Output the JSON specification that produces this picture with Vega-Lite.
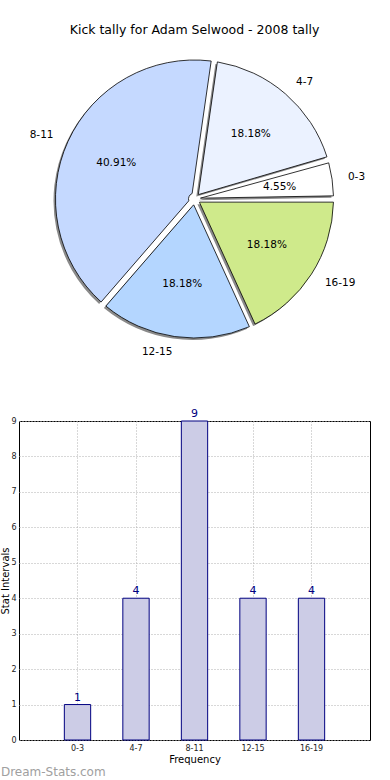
{
  "$schema": "https://vega.github.io/schema/vega-lite/v6.json",
  "padding": {"left": 0, "top": 23, "right": 4, "bottom": 2},
  "background": "white",
  "config": {"font": "DejaVu Sans", "view": {"stroke": null}},
  "datasets": {
    "tally": [
      {"range": "0-3", "idx": 1, "count": 1, "pct": "4.55%"},
      {"range": "4-7", "idx": 2, "count": 4, "pct": "18.18%"},
      {"range": "8-11", "idx": 3, "count": 9, "pct": "40.91%"},
      {"range": "12-15", "idx": 4, "count": 4, "pct": "18.18%"},
      {"range": "16-19", "idx": 5, "count": 4, "pct": "18.18%"}
    ]
  },
  "vconcat": [
    {
      "width": 351,
      "height": 310,
      "title": {"text": "Kick tally for Adam Selwood - 2008 tally", "fontSize": 12.5, "fontWeight": "normal", "offset": 8, "anchor": "middle"},
      "data": {"name": "tally"},
      "encoding": {
        "theta": {"field": "count", "type": "quantitative", "stack": true, "scale": {"range": [1.5708, -4.7124]}},
        "order": {"field": "idx", "type": "quantitative", "sort": "ascending"}
      },
      "layer": [
        {
          "mark": {"type": "arc", "radius": 139, "innerRadius": 6, "padAngle": 0.045, "fill": "#8a8a8a", "xOffset": -2, "yOffset": 2}
        },
        {
          "mark": {"type": "arc", "radius": 139, "innerRadius": 6, "padAngle": 0.045, "stroke": "black", "strokeWidth": 0.8},
          "encoding": {
            "color": {"field": "range", "type": "nominal", "legend": null,
              "scale": {"domain": ["0-3", "4-7", "8-11", "12-15", "16-19"], "range": ["#ffffff", "#ebf2ff", "#c5d9ff", "#b4d6ff", "#cfea8b"]}}
          }
        },
        {
          "mark": {"type": "text", "radius": 86, "fontSize": 10.5, "color": "black"},
          "encoding": {"text": {"field": "pct", "type": "nominal"}}
        },
        {
          "mark": {"type": "text", "radius": 155, "fontSize": 10.5, "align": "left", "baseline": "middle", "color": "black"},
          "encoding": {"text": {"condition": {"test": "indexof(['0-3','4-7','16-19'], datum.range) >= 0", "field": "range", "type": "nominal"}, "value": ""}}
        },
        {
          "mark": {"type": "text", "radius": 155, "fontSize": 10.5, "align": "right", "baseline": "middle", "color": "black"},
          "encoding": {"text": {"condition": {"test": "indexof(['8-11','12-15'], datum.range) >= 0", "field": "range", "type": "nominal"}, "value": ""}}
        }
      ]
    },
    {
      "width": 351,
      "height": 319,
      "title": {"text": "Dream-Stats.com", "orient": "bottom", "anchor": "start", "frame": "bounds", "fontSize": 12, "fontWeight": "normal", "color": "#a0a0a0", "offset": 3},
      "view": {"stroke": "black", "strokeWidth": 1},
      "data": {"name": "tally"},
      "encoding": {
        "x": {"field": "range", "type": "nominal", "sort": {"field": "idx"},
          "scale": {"paddingInner": 0.55, "paddingOuter": 0.775},
          "axis": {"title": "Frequency", "titleFontSize": 10, "titleFontWeight": "normal", "titlePadding": 2, "labelAngle": 0, "labelFontSize": 8, "labelColor": "#222", "labelPadding": 4, "tickSize": 0, "domain": false, "grid": true, "gridDash": [1, 2], "gridColor": "#b0b0b0", "bandPosition": 0.5}},
        "y": {"field": "count", "type": "quantitative", "scale": {"domain": [0, 9], "nice": false},
          "axis": {"title": "Stat Intervals", "titleFontSize": 10, "titleFontWeight": "normal", "titlePadding": 0, "labelFontSize": 8, "labelColor": "#222", "labelPadding": 3, "tickSize": 0, "values": [0,1,2,3,4,5,6,7,8,9], "labelOverlap": false, "domain": false, "grid": true, "gridDash": [1, 2], "gridColor": "#b0b0b0"}}
      },
      "layer": [
        {
          "mark": {"type": "bar", "fill": "#ccccE6", "stroke": "#000080", "strokeWidth": 1}
        },
        {
          "mark": {"type": "text", "color": "#000080", "fontSize": 11, "baseline": "bottom", "dy": -2},
          "encoding": {
            "text": {"field": "count", "type": "quantitative"}
          }
        }
      ]
    }
  ],
  "spacing": 67,
  "bounds": "flush"
}
